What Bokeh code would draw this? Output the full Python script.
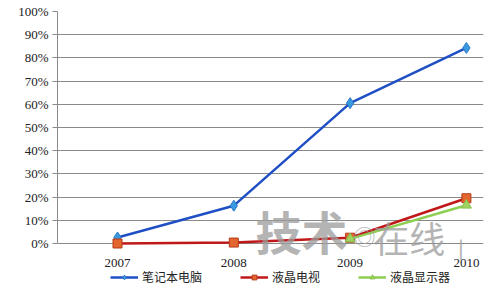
from bokeh.plotting import figure
from bokeh.models import (FixedTicker, NumeralTickFormatter, Range1d, Legend, LegendItem, Label)
from bokeh.core.properties import value
from bokeh.embed import file_html
from bokeh.resources import INLINE

years = ["2007", "2008", "2009", "2010"]
notebook = [0.026, 0.163, 0.605, 0.843]
lcd_tv = [0.0, 0.004, 0.025, 0.195]
monitor_years = ["2009", "2010"]
monitor = [0.02, 0.165]
y_ticks = [0.0, 0.1, 0.2, 0.3, 0.4, 0.5, 0.6, 0.7, 0.8, 0.9, 1.0]
series_names = ["笔记本电脑", "液晶电视", "液晶显示器"]

xi = list(range(len(years)))
mx = [years.index(y) for y in monitor_years]

p = figure(width=500, height=297, output_backend="svg", toolbar_location=None,
           x_axis_location=None,
           x_range=Range1d(-0.516, 3.147), y_range=Range1d(-0.2328, 1.0),
           min_border_left=57, min_border_right=17, min_border_top=11, min_border_bottom=0)
p.outline_line_color = None
p.background_fill_color = "white"
p.border_fill_color = "white"

p.xgrid.grid_line_color = None
p.ygrid.grid_line_color = "#8a8a8a"
p.ygrid.grid_line_width = 1
p.ygrid.ticker = FixedTicker(ticks=y_ticks)

p.yaxis.ticker = FixedTicker(ticks=y_ticks)
p.yaxis.bounds = (0, 1)
p.yaxis.formatter = NumeralTickFormatter(format="0%")
p.yaxis.axis_line_color = "#8a8a8a"
p.yaxis.major_tick_line_color = "#8a8a8a"
p.yaxis.major_tick_out = 5
p.yaxis.major_tick_in = 0
p.yaxis.minor_tick_line_color = None
p.yaxis.major_label_text_font = "Liberation Serif"
p.yaxis.major_label_text_font_size = "13px"
p.yaxis.major_label_text_color = "#222222"
p.yaxis.major_label_standoff = 4

# category labels under the 0% baseline
p.text(x=xi, y=[0.0] * len(xi), text=years, y_offset=20,
       text_font=value("Liberation Serif"), text_font_size="13px", text_color="#222222",
       text_align="center", text_baseline="middle")

l1 = p.line(xi, notebook, line_color="#1e4fc4", line_width=2.5)
s1 = p.scatter(xi, notebook, marker="diamond", size=11, fill_color="#3a9ae0", line_color="#2a78c8")
l2 = p.line(xi, lcd_tv, line_color="#c01818", line_width=2.5)
s2 = p.scatter(xi, lcd_tv, marker="square", size=9, fill_color="#e2662e", line_color="#b83a1a")
l3 = p.line(mx, monitor, line_color="#8dcf52", line_width=2.5)
s3 = p.scatter(mx, monitor, marker="triangle", size=10, fill_color="#9fd462", line_color="#86c04a")

# watermark
wm_color = "#9c9c9c"
p.add_layout(Label(x=1.187, y=-0.085, text="技术", text_font="Noto Sans CJK SC",
                   text_font_size="46px", text_color=wm_color, text_alpha=0.75, text_font_style="bold"))
p.add_layout(Label(x=2.03, y=-0.034, text="◎", text_font="Noto Sans CJK SC",
                   text_font_size="22px", text_color=wm_color, text_alpha=0.75))
p.add_layout(Label(x=2.2, y=-0.085, text="在线", text_font="Noto Sans CJK SC",
                   text_font_size="36px", text_color=wm_color, text_alpha=0.75))
p.add_layout(Label(x=2.93, y=-0.073, text="|", text_font="Noto Sans CJK SC",
                   text_font_size="18px", text_color=wm_color, text_alpha=0.75, text_font_style="bold"))

legend = Legend(items=[LegendItem(label=series_names[0], renderers=[l1, s1]),
                       LegendItem(label=series_names[1], renderers=[l2, s2]),
                       LegendItem(label=series_names[2], renderers=[l3, s3])],
                orientation="horizontal", location=(53, 12))
legend.label_text_font = "Noto Sans CJK SC"
legend.label_text_font_size = "12px"
legend.label_text_color = "#222222"
legend.glyph_width = 28
legend.glyph_height = 12
legend.spacing = 38
legend.padding = 0
legend.margin = 0
legend.border_line_color = None
legend.background_fill_alpha = 0
legend.label_standoff = 4
p.add_layout(legend, "center")

open("out.html", "w").write(file_html(p, INLINE))
